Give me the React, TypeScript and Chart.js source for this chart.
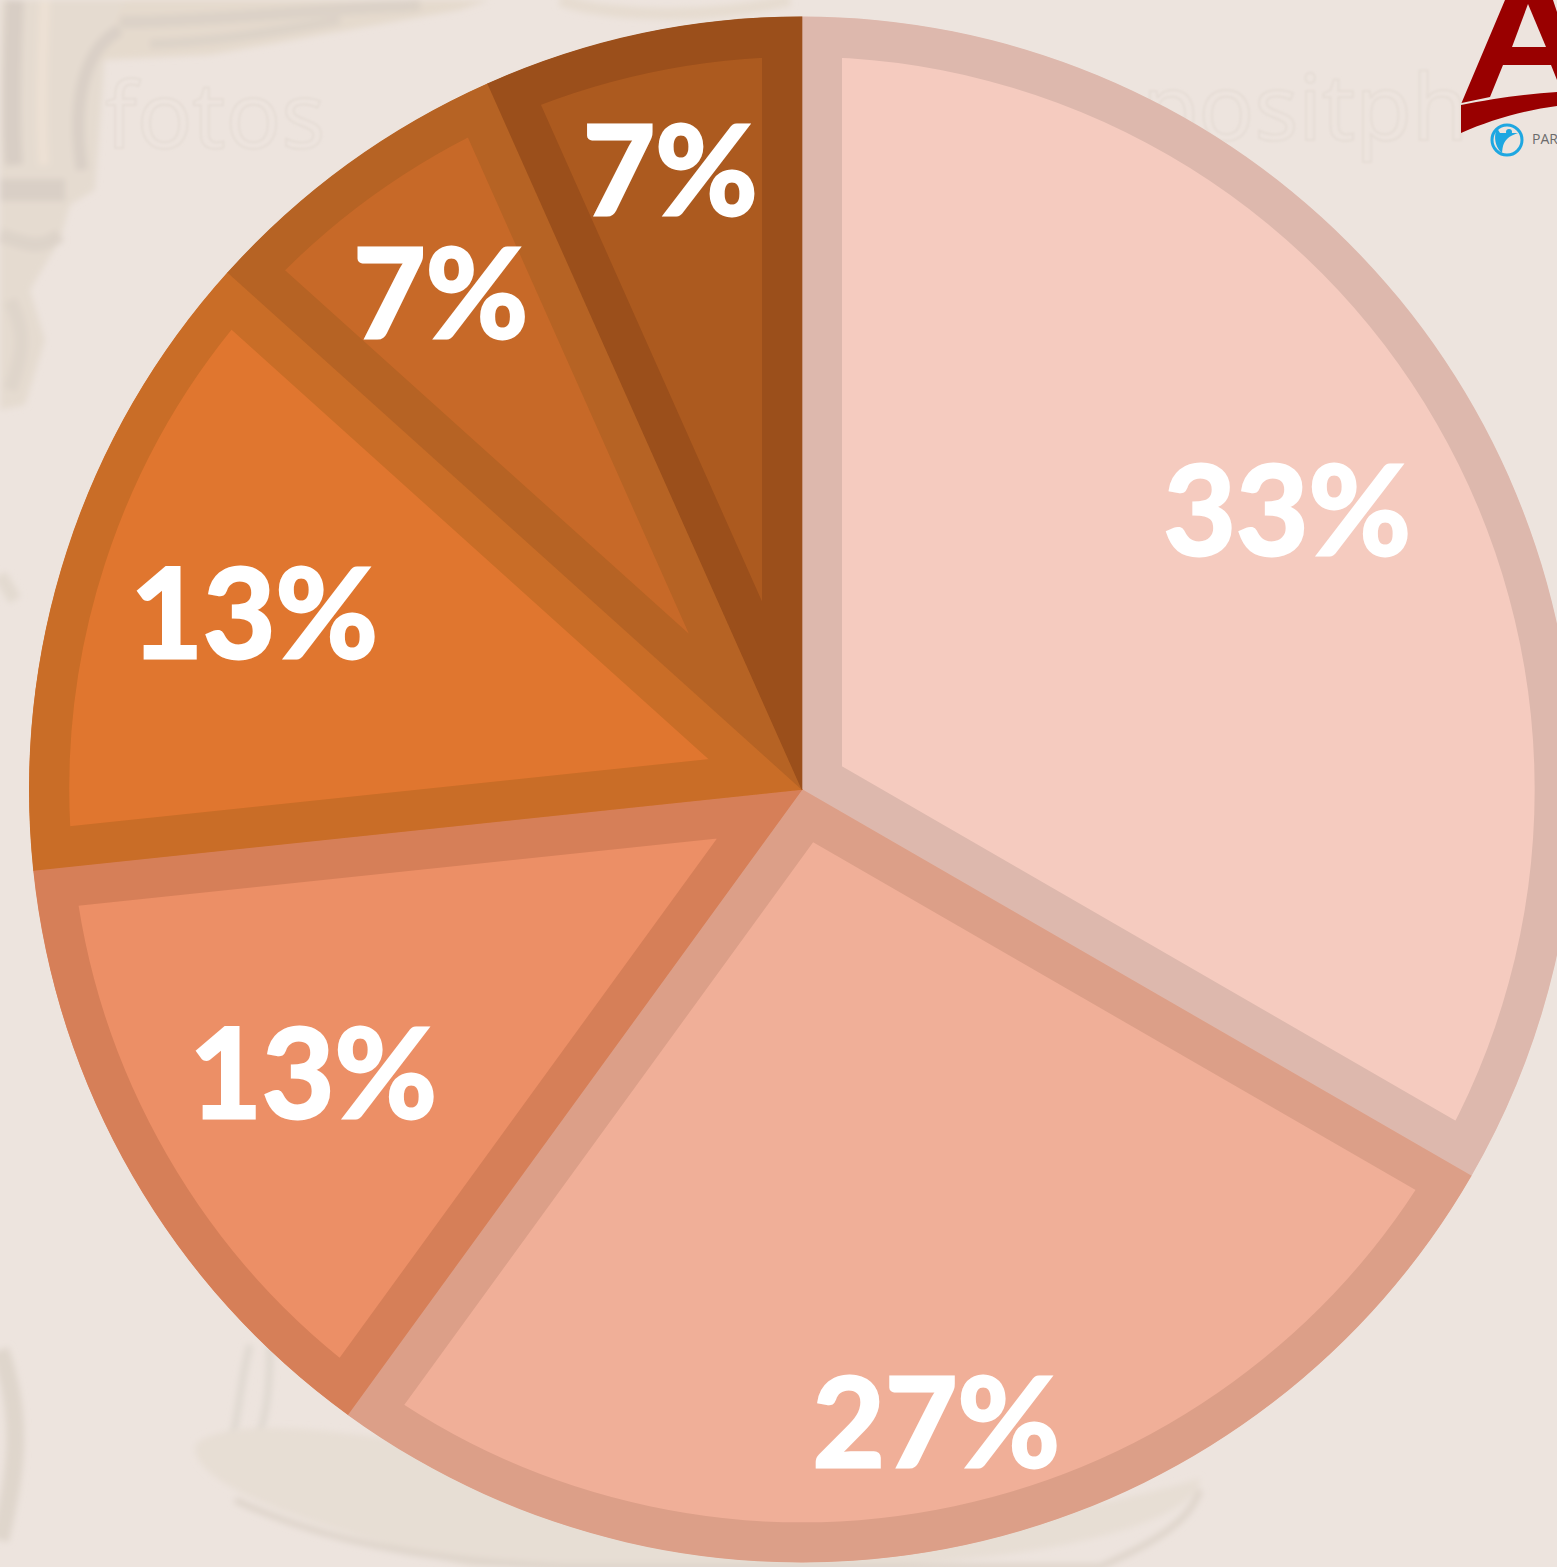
import React, { useEffect, useRef } from "react";
import { Chart, registerables } from "chart.js";

Chart.register(...registerables);

const categories = ["A", "B", "C", "D", "E", "F"];
const shares = [5, 4, 2, 2, 1, 1];
const percentLabels = ["33%", "27%", "13%", "13%", "7%", "7%"];
const labelRadius = [0.725, 0.835, 0.73, 0.745, 0.795, 0.82];
const fillColors = ["#F5CBBF", "#F0AF98", "#EC8F66", "#E0762F", "#C76928", "#AC5A1F"];
const edgeColors = ["#DDB8AD", "#DC9F88", "#D67F58", "#C96D27", "#B66324", "#9B4F1B"];

const percentPlugin = {
  id: "percentLabels",
  afterDatasetsDraw(chart: any) {
    const { ctx } = chart;
    const arcs = chart.getDatasetMeta(0).data;
    ctx.save();
    ctx.fillStyle = "#FFFFFF";
    ctx.strokeStyle = "#FFFFFF";
    ctx.lineWidth = 3;
    ctx.lineJoin = "miter";
    ctx.font = 'bold 125px Lato, "Noto Sans", sans-serif';
    ctx.textAlign = "center";
    ctx.textBaseline = "alphabetic";
    arcs.forEach((arc: any, i: number) => {
      const p = arc.getProps(["x", "y", "startAngle", "endAngle", "outerRadius"], true);
      const mid = (p.startAngle + p.endAngle) / 2;
      const r = p.outerRadius * labelRadius[i];
      const x = p.x + Math.cos(mid) * r;
      const y = p.y + Math.sin(mid) * r + 46;
      ctx.fillText(percentLabels[i], x, y);
      ctx.strokeText(percentLabels[i], x, y);
    });
    ctx.restore();
  },
};

function Backdrop() {
  return (
    <svg width={1557} height={1567} style={{ position: "absolute", left: 0, top: 0 }}>
      <defs>
        <filter id="soft"><feGaussianBlur stdDeviation="3" /></filter>
        <filter id="softer"><feGaussianBlur stdDeviation="0.8" /></filter>
      </defs>
      <g filter="url(#soft)" fill="none">
        <path d="M0 0 L125 0 L105 55 L95 190 L70 205 L60 240 L30 290 L45 340 L25 405 L0 410 Z" fill="#E5DBD0" stroke="none" />
        <path d="M100 55 L125 0 L490 0 L460 10 L320 35 L210 55 L100 60 Z" fill="#E5DACD" stroke="none" />
        <path d="M15 0 C 12 60 10 120 14 165" stroke="#D8CEC5" strokeWidth="18" />
        <path d="M45 0 C 42 60 40 120 44 165" stroke="#EDE1D4" strokeWidth="10" />
        <path d="M82 170 C 70 90 90 45 120 30" stroke="#D9CFC6" strokeWidth="12" />
        <path d="M120 22 C 200 22 300 10 420 5" stroke="#DBD1C7" strokeWidth="12" />
        <path d="M150 44 C 220 42 280 30 340 20" stroke="#DCD2C8" strokeWidth="9" />
        <path d="M0 190 L65 190" stroke="#D9CFC6" strokeWidth="22" />
        <path d="M0 235 C 30 245 40 250 60 235" stroke="#DDD3C9" strokeWidth="14" />
        <path d="M10 300 C 25 330 25 350 10 390" stroke="#DFD5CB" strokeWidth="14" />
        <path d="M560 0 C 600 14 700 22 790 0" stroke="#E6DCD0" strokeWidth="12" />
        <path d="M0 1350 C 25 1420 15 1480 0 1540" stroke="#DFD6CC" strokeWidth="18" />
        <path d="M250 1345 C 240 1380 240 1410 232 1440" stroke="#DFD8D0" strokeWidth="7" />
        <path d="M270 1345 C 270 1380 268 1410 258 1440" stroke="#DFD8D0" strokeWidth="7" />
        <path d="M0 575 L 15 600" stroke="#E3DAD0" strokeWidth="14" />
      </g>
      <g filter="url(#soft)">
        <path d="M195 1445 C 240 1400 500 1450 800 1530 C 950 1530 1100 1510 1200 1478 C 1200 1520 1050 1567 800 1567 L 470 1567 C 330 1530 190 1490 195 1445 Z" fill="#E7DED4" />
        <path d="M235 1500 C 320 1540 420 1560 560 1567 L 1100 1567 C 1160 1540 1190 1520 1200 1490" fill="none" stroke="#DDD3C9" strokeWidth="6" />
      </g>
      <g filter="url(#softer)" fill="none" stroke="#E6DDD6" strokeWidth="2" fontFamily="Noto Sans" fontSize="92">
        <text x="105" y="148">fotos</text>
        <text x="1090" y="140">epositph</text>
      </g>
      <path d="M1461.5 103 L1505 0 L1553 0 L1557 12 L1557 80 L1551 65 L1503 65 L1490 97 Z" fill="#990000" />
      <path d="M1528 4 L1512 47 L1546 47 Z" fill="#EDE4DE" />
      <path d="M1461 105 C 1490 99 1525 94 1557 92 L1557 106 C 1525 110 1490 120 1461 133 Z" fill="#990000" />
      <circle cx="1507" cy="140" r="15" fill="none" stroke="#1EA7E1" strokeWidth="3" />
      <path d="M1497 128 C 1492 140 1498 150 1502 153 C 1503 145 1503 138 1518 133 L1500 133 Z" fill="#1EA7E1" />
      <circle cx="1509" cy="132" r="3" fill="#1EA7E1" />
      <text x="1532" y="144" fontFamily="Open Sans" fontSize="14" fill="#6B6B6B">PAR</text>
    </svg>
  );
}

export default function App() {
  const canvasRef = useRef<HTMLCanvasElement | null>(null);

  useEffect(() => {
    const chart = new Chart(canvasRef.current as HTMLCanvasElement, {
      type: "pie",
      data: {
        labels: categories,
        datasets: [
          {
            data: shares,
            backgroundColor: fillColors,
            borderColor: edgeColors,
            borderWidth: 40,
            borderAlign: "inner",
            borderJoinStyle: "miter",
          } as any,
        ],
      },
      options: {
        responsive: false,
        animation: false,
        radius: 773,
        layout: { padding: 0 },
        plugins: { legend: { display: false }, tooltip: { enabled: false } },
      } as any,
      plugins: [percentPlugin],
    });
    return () => chart.destroy();
  }, []);

  return (
    <div
      style={{
        position: "fixed",
        left: 0,
        top: 0,
        width: 1557,
        height: 1567,
        overflow: "hidden",
        background: "#EDE4DE",
      }}
    >
      <Backdrop />
      <canvas
        ref={canvasRef}
        width={1604}
        height={1579}
        style={{ position: "absolute", left: 0, top: 0, width: 1604, height: 1579, filter: "blur(0.6px)" }}
      />
    </div>
  );
}
